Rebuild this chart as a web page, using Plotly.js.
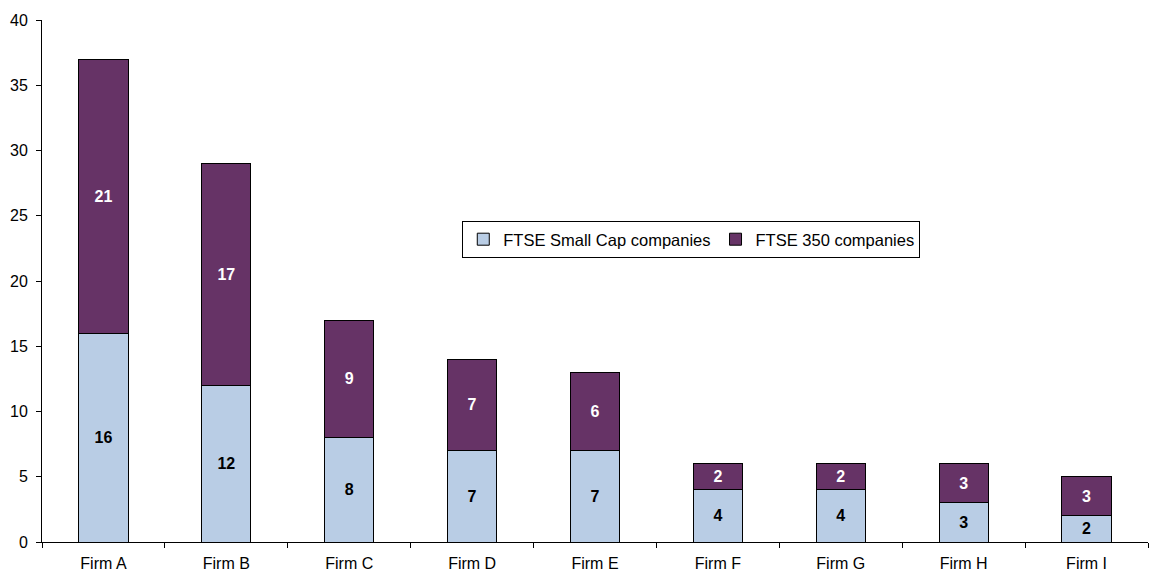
<!DOCTYPE html>
<html>
<head>
<meta charset="utf-8">
<script src="https://cdn.plot.ly/plotly-3.0.1.min.js"></script>
<style>html,body{margin:0;padding:0;background:#fff;}#chart{width:1150px;height:573px;}</style>
</head>
<body>
<div id="chart"></div>
<script>
var categories = ["Firm A","Firm B","Firm C","Firm D","Firm E","Firm F","Firm G","Firm H","Firm I"];
var smallCap = [16,12,8,7,7,4,4,3,2];
var ftse350 = [21,17,9,7,6,2,2,3,3];
var yTicks = [0,5,10,15,20,25,30,35,40];

var FONT = "Liberation Sans, Arial, sans-serif";

var traces = [
  {
    type: "bar", name: "FTSE Small Cap companies", x: categories, y: smallCap,
    marker: {color: "#B9CDE5", line: {color: "#000000", width: 1}},
    text: smallCap.map(String), textposition: "inside", insidetextanchor: "middle",
    textfont: {family: FONT, size: 16, color: "#000000", weight: "bold"},
    constraintext: "none", hoverinfo: "none"
  },
  {
    type: "bar", name: "FTSE 350 companies", x: categories, y: ftse350,
    marker: {color: "#663366", line: {color: "#000000", width: 1}},
    text: ftse350.map(String), textposition: "inside", insidetextanchor: "middle",
    textfont: {family: FONT, size: 16, color: "#FFFFFF", weight: "bold"},
    constraintext: "none", hoverinfo: "none"
  }
];

var layout = {
  width: 1150, height: 573,
  margin: {l: 42, r: 2, t: 20, b: 31},
  paper_bgcolor: "#ffffff", plot_bgcolor: "#ffffff",
  barmode: "stack", bargap: 0.6,
  font: {family: FONT, size: 16, color: "#000000"},
  showlegend: true,
  legend: {
    orientation: "h", x: 0.380, y: 0.615, xanchor: "left", yanchor: "top",
    bordercolor: "#000000", borderwidth: 1, bgcolor: "#ffffff",
    font: {family: FONT, size: 16.5, color: "#000000"},
    traceorder: "normal", itemwidth: 30
  },
  xaxis: {
    type: "category", showline: true, linecolor: "#000000", linewidth: 1,
    ticks: "outside", tickson: "boundaries", ticklen: 5, tickcolor: "#000000",
    ticklabelstandoff: 7,
    showgrid: false, zeroline: false, fixedrange: true,
    tickfont: {family: FONT, size: 16, color: "#000000"}
  },
  yaxis: {
    range: [0, 40], tickvals: yTicks, ticktext: yTicks.map(String),
    showline: true, linecolor: "#000000", linewidth: 1,
    ticks: "outside", ticklen: 5, tickcolor: "#000000", ticklabelstandoff: 5,
    showgrid: false, zeroline: false, fixedrange: true,
    tickfont: {family: FONT, size: 16, color: "#000000"}
  }
};

Plotly.newPlot("chart", traces, layout, {displayModeBar: false, staticPlot: true});
</script>
</body>
</html>
